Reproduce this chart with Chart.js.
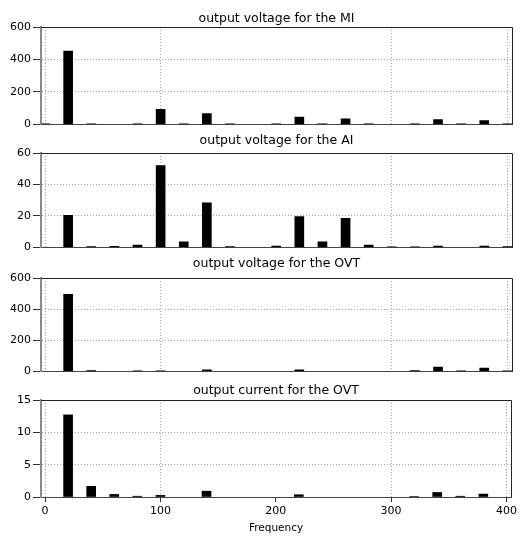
<!DOCTYPE html>
<html lang="en">
<head>
    <meta charset="UTF-8">
    <title>Harmonic spectra</title>
    <style>
        body {
            margin: 0;
            padding: 0;
            background: #fff;
            width: 520px;
            height: 536px;
            overflow: hidden;
        }
        canvas {
            display: block;
        }
    </style>
</head>
<body>
    <canvas id="miChart" width="520" height="133"></canvas>
    <canvas id="aiChart" width="520" height="123"></canvas>
    <canvas id="ovtVoltageChart" width="520" height="124"></canvas>
    <canvas id="ovtCurrentChart" width="520" height="156"></canvas>

<script src="https://cdn.jsdelivr.net/npm/chart.js"></script>
<script>
    // harmonic frequencies (x axis)
    const freqs = [0, 20, 40, 60, 80, 100, 120, 140, 160, 180, 200, 220, 240, 260, 280, 300, 320, 340, 360, 380, 400];
    const freqTicks = [0, 100, 200, 300, 400];

    // amplitudes, one per frequency (null = no bar)
    const miVoltage  = [4, 452, 3, null, 3, 93, 3, 66, 3, null, 3, 45, 3, 35, 3, null, 3, 29, 3, 23, 3];
    const aiVoltage  = [null, 20.4, 0.6, 0.7, 1.5, 52, 3.6, 28.4, 0.6, null, 0.8, 19.6, 3.6, 18.5, 1.5, 0.4, 0.4, 0.9, null, 0.9, 0.5];
    const ovtVoltage = [null, 495, 5, null, 4, 4, null, 10, null, null, null, 10, null, null, null, null, 5, 28, 4, 21, 4];
    const ovtCurrent = [null, 12.7, 1.65, 0.4, 0.12, 0.25, null, 0.9, null, null, null, 0.35, null, null, null, null, 0.08, 0.7, 0.12, 0.45, null];

    const FONT = 'DejaVu Sans, Verdana, sans-serif';

    // dark frame on top and right of the plot area
    const framePlugin = {
        id: 'frame',
        afterDatasetsDraw(chart) {
            const { ctx, chartArea: a } = chart;
            ctx.save();
            ctx.strokeStyle = '#222';
            ctx.lineWidth = 1;
            ctx.beginPath();
            ctx.moveTo(a.left, a.top + 0.5);
            ctx.lineTo(a.right + 0.5, a.top + 0.5);
            ctx.lineTo(a.right + 0.5, a.bottom);
            ctx.stroke();
            ctx.restore();
        }
    };

    function makeChart(id, title, values, yMax, yStep, titlePad, showX) {
        const ctx = document.getElementById(id).getContext('2d');
        return new Chart(ctx, {
            type: 'bar',
            data: {
                datasets: [{
                    data: freqs.map((f, i) => ({ x: f, y: values[i] })),
                    backgroundColor: '#000',
                    barThickness: 9
                }]
            },
            plugins: [framePlugin],
            options: {
                responsive: false,
                animation: false,
                layout: { padding: { left: 0, right: 8, top: 0, bottom: 0 } },
                plugins: {
                    legend: { display: false },
                    tooltip: { enabled: false },
                    title: {
                        display: true,
                        text: title,
                        fullSize: false,
                        color: '#000',
                        font: { family: FONT, size: 12.5, weight: 'normal', lineHeight: '14px' },
                        padding: titlePad
                    }
                },
                scales: {
                    x: {
                        type: 'linear',
                        min: -3.5,
                        max: 404,
                        offset: false,
                        afterBuildTicks: s => { s.ticks = freqTicks.map(v => ({ value: v })); },
                        afterFit: s => { s.height = showX ? 39 : 8; },
                        border: { display: true, color: '#444', width: 1, dash: [1, 2] },
                        grid: {
                            offset: false,
                            color: c => (c.tick && c.tick.value === 200) ? 'rgba(0,0,0,0)' : '#a0a0a0',
                            lineWidth: 1,
                            drawTicks: showX,
                            tickLength: 5,
                            tickColor: '#333'
                        },
                        ticks: {
                            display: showX,
                            color: '#000',
                            padding: 3,
                            maxRotation: 0,
                            font: { family: FONT, size: 11 }
                        },
                        title: {
                            display: showX,
                            text: 'Frequency',
                            color: '#000',
                            padding: { top: 0, bottom: 1 },
                            font: { family: FONT, size: 10.5 }
                        }
                    },
                    y: {
                        min: 0,
                        max: yMax,
                        afterFit: s => { s.width = 41; },
                        border: { display: true, color: '#8a8a8a', width: 2, dash: [1, 2] },
                        grid: {
                            color: c => (c.tick && (c.tick.value === 0 || c.tick.value === yMax)) ? 'rgba(0,0,0,0)' : '#a0a0a0',
                            lineWidth: 1,
                            tickLength: 8,
                            tickColor: '#333'
                        },
                        ticks: {
                            stepSize: yStep,
                            color: '#000',
                            padding: 2,
                            font: { family: FONT, size: 11 }
                        }
                    }
                }
            }
        });
    }

    makeChart('miChart', 'output voltage for the MI', miVoltage, 600, 200, { top: 12, bottom: 1 }, false);
    makeChart('aiChart', 'output voltage for the AI', aiVoltage, 60, 20, { top: 1, bottom: 5 }, false);
    makeChart('ovtVoltageChart', 'output voltage for the OVT', ovtVoltage, 600, 200, { top: 1, bottom: 7 }, false);
    makeChart('ovtCurrentChart', 'output current for the OVT', ovtCurrent, 15, 5, { top: 4, bottom: 2 }, true);
</script>
</body>
</html>
